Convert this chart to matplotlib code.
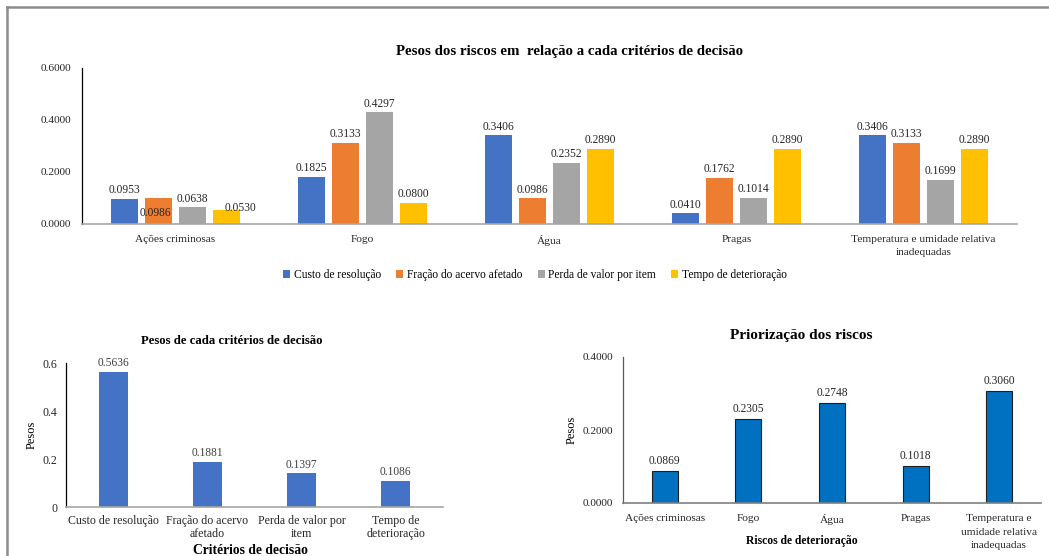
import matplotlib
matplotlib.use("Agg")
import matplotlib.pyplot as plt
from matplotlib.patches import Patch
from matplotlib.lines import Line2D
import numpy as np

plt.rcParams['font.family'] = ['Liberation Serif', 'DejaVu Serif']

# ---------------- data ----------------
riscos = ["Ações criminosas", "Fogo", "Água", "Pragas",
          "Temperatura e umidade relativa\ninadequadas"]
criterios = ["Custo de resolução", "Fração do acervo afetado",
             "Perda de valor por item", "Tempo de deterioração"]
custo_resolucao = [0.0953, 0.1825, 0.3406, 0.0410, 0.3406]
fracao_acervo = [0.0986, 0.3133, 0.0986, 0.1762, 0.3133]
perda_valor = [0.0638, 0.4297, 0.2352, 0.1014, 0.1699]
tempo_deterioracao = [0.0530, 0.0800, 0.2890, 0.2890, 0.2890]

criterios_labels = ["Custo de resolução", "Fração do acervo\nafetado",
                    "Perda de valor por\nitem", "Tempo de\ndeterioração"]
pesos_criterios = [0.5636, 0.1881, 0.1397, 0.1086]

riscos_labels2 = ["Ações criminosas", "Fogo", "Água", "Pragas",
                  "Temperatura e\numidade relativa\ninadequadas"]
priorizacao = [0.0869, 0.2305, 0.2748, 0.1018, 0.3060]

colors = ["#4472C4", "#ED7D31", "#A5A5A5", "#FFC000"]

W, H = 1049, 556
fig = plt.figure(figsize=(W / 100, H / 100), dpi=100)


def px_axes(x0, y0, x1, y1):
    return fig.add_axes([x0 / W, 1 - y1 / H, (x1 - x0) / W, (y1 - y0) / H])


def style(ax, left_color="black", bottom_color="#A6A6A6", size=8.2):
    for s in ["top", "right"]:
        ax.spines[s].set_visible(False)
    ax.spines["left"].set_color(left_color)
    ax.spines["left"].set_linewidth(0.9)
    ax.spines["bottom"].set_color(bottom_color)
    ax.spines["bottom"].set_linewidth(1.2)
    ax.tick_params(axis="both", length=0, labelsize=size, pad=3, colors="#262626")


def set_spacing(ax, ls):
    for t in ax.get_xticklabels():
        t.set_linespacing(ls)


# frame lines of the original document
fig.add_artist(Line2D([7 / W, 7 / W], [0, 1 - 6.5 / H], color="#8C8C8C", lw=1.8))
fig.add_artist(Line2D([7 / W, 1], [1 - 6.5 / H, 1 - 6.5 / H], color="#8C8C8C", lw=1.8))

# ---------------- top chart ----------------
ax1 = px_axes(82, 68, 1017, 224)
series = [custo_resolucao, fracao_acervo, perda_valor, tempo_deterioracao]
x = np.arange(len(riscos))
step = 0.182
bw = 0.145
offsets = {(0, 1): (-2, -17), (0, 3): (10, -5)}
for i, (vals, c, name) in enumerate(zip(series, colors, criterios)):
    pos = x + (i - 1.5) * step
    ax1.bar(pos, vals, bw, color=c, label=name, zorder=2)
    for j, (p, v) in enumerate(zip(pos, vals)):
        dx, dy = offsets.get((j, i), (0, 0))
        ax1.annotate(f"{v:.4f}", (p, v), xytext=(dx, 2 + dy), textcoords="offset points",
                     ha="center", va="bottom", fontsize=8.3, color="#262626")
ax1.set_xlim(-0.5, len(riscos) - 0.5)
ax1.set_ylim(0, 0.6)
ax1.set_yticks([0, 0.2, 0.4, 0.6])
ax1.set_yticklabels([f"{t:.4f}" for t in [0, 0.2, 0.4, 0.6]])
ax1.set_xticks(x)
ax1.set_xticklabels(riscos)
style(ax1)
set_spacing(ax1, 1.5)
ax1.tick_params(axis="x", pad=8)
ax1.tick_params(axis="y", pad=8)
fig.text(570 / W, 1 - 52 / H, "Pesos dos riscos em  relação a cada critérios de decisão",
         ha="center", va="center", fontsize=10.7, fontweight="bold")
handles = [Patch(facecolor=c, label=n) for c, n in zip(colors, criterios)]
fig.legend(handles=handles, loc="center", bbox_to_anchor=(535 / W, 1 - 275 / H), ncol=4,
           frameon=False, fontsize=8.3, handlelength=0.6, handleheight=0.6,
           handletextpad=0.3, columnspacing=1.35)

# ---------------- bottom-left chart ----------------
ax2 = px_axes(66, 363, 443, 507)
x2 = np.arange(len(pesos_criterios))
ax2.bar(x2, pesos_criterios, 0.31, color="#4472C4", zorder=2)
for p, v in zip(x2, pesos_criterios):
    ax2.annotate(f"{v:.4f}", (p, v), xytext=(0, 2), textcoords="offset points",
                 ha="center", va="bottom", fontsize=8.3, color="#404040")
ax2.set_xlim(-0.5, len(pesos_criterios) - 0.5)
ax2.set_ylim(0, 0.6)
ax2.set_yticks([0, 0.2, 0.4, 0.6])
ax2.set_yticklabels(["0", "0.2", "0.4", "0.6"])
ax2.set_xticks(x2)
ax2.set_xticklabels(criterios_labels)
style(ax2, size=8.6)
set_spacing(ax2, 1.12)
ax2.tick_params(axis="x", pad=6)
ax2.tick_params(axis="y", pad=6)
fig.text(32 / W, 1 - 435 / H, "Pesos", rotation=90, ha="center", va="center", fontsize=9)
fig.text(250 / W, 1 - 550 / H, "Critérios de decisão",
         ha="center", va="center", fontsize=9.8, fontweight="bold")
fig.text(232 / W, 1 - 341 / H, "Pesos de cada critérios de decisão",
         ha="center", va="center", fontsize=9.2, fontweight="bold")

# ---------------- bottom-right chart ----------------
ax3 = px_axes(623, 357, 1041, 503)
x3 = np.arange(len(priorizacao))
ax3.bar(x3, priorizacao, 0.31, color="#0070C0", edgecolor="#1F1F1F", linewidth=0.8, zorder=2)
for p, v in zip(x3, priorizacao):
    ax3.annotate(f"{v:.4f}", (p, v), xytext=(0, 3), textcoords="offset points",
                 ha="center", va="bottom", fontsize=8.3, color="#262626")
ax3.set_xlim(-0.5, len(priorizacao) - 0.5)
ax3.set_ylim(0, 0.4)
ax3.set_yticks([0, 0.2, 0.4])
ax3.set_yticklabels([f"{t:.4f}" for t in [0, 0.2, 0.4]])
ax3.set_xticks(x3)
ax3.set_xticklabels(riscos_labels2)
style(ax3, left_color="#595959", bottom_color="#7F7F7F")
set_spacing(ax3, 1.65)
ax3.tick_params(axis="x", pad=8)
ax3.tick_params(axis="y", pad=7)
fig.text(572 / W, 1 - 430 / H, "Pesos", rotation=90, ha="center", va="center", fontsize=9)
fig.text(802 / W, 1 - 541 / H, "Riscos de deterioração",
         ha="center", va="center", fontsize=8.4, fontweight="bold")
fig.text(801 / W, 1 - 335 / H, "Priorização dos riscos",
         ha="center", va="center", fontsize=11, fontweight="bold")

fig.savefig("out.png", dpi=100)
